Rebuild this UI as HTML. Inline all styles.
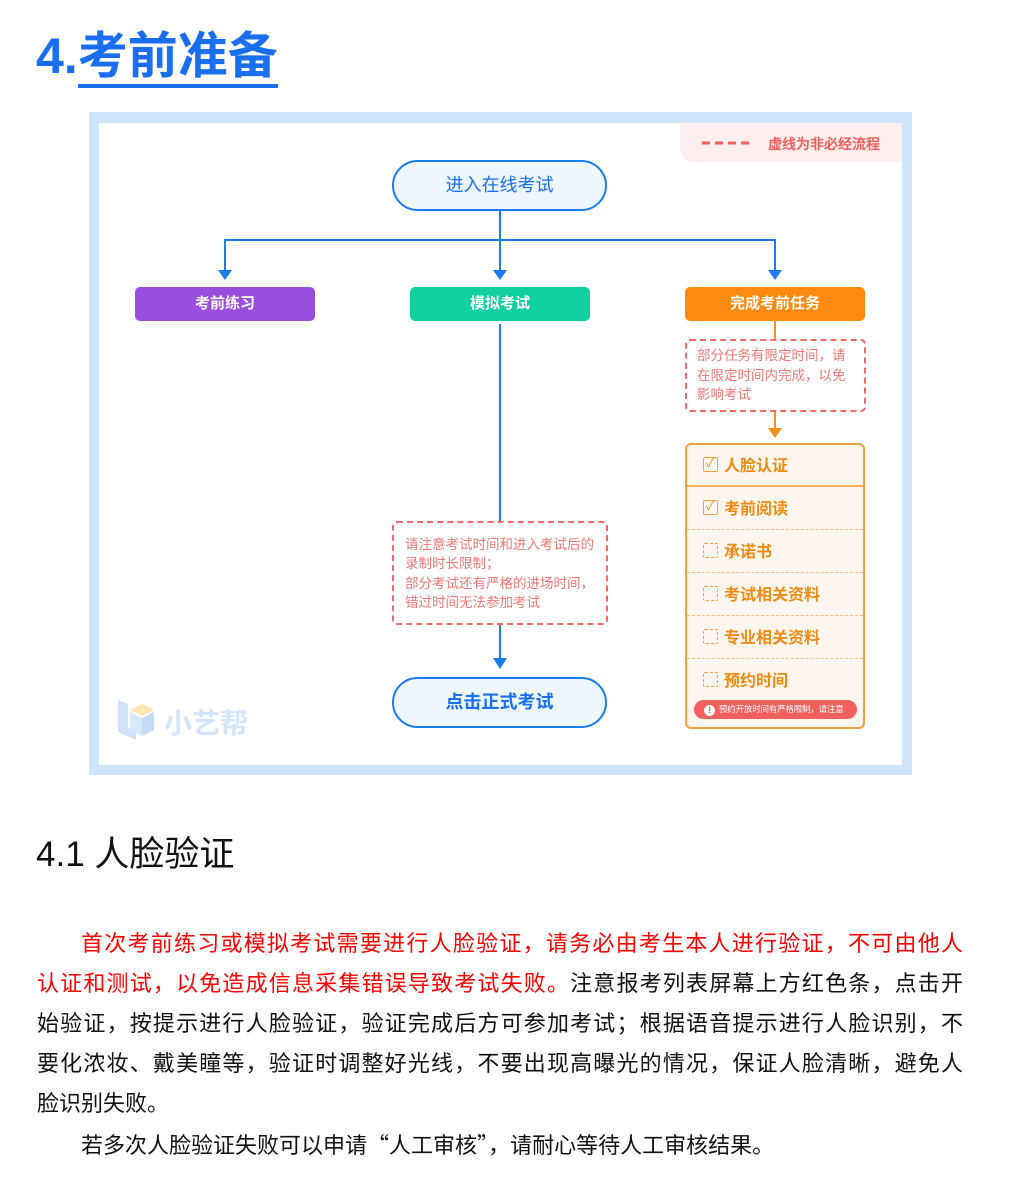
<!DOCTYPE html>
<html><head><meta charset="utf-8"><style>
*{margin:0;padding:0;box-sizing:border-box}
body{width:1024px;height:1203px;background:#fff;position:relative;overflow:hidden;font-family:"Liberation Sans","Noto Sans CJK SC",sans-serif}
.a{position:absolute}
.t{position:absolute;white-space:nowrap}
.line{position:absolute;left:37px;width:926px;font-size:22px;height:40px;line-height:40px;text-align:justify;text-align-last:justify;color:#111;white-space:nowrap}
.row{position:absolute;left:687px;width:176px;height:43px}
.cb{position:absolute;left:16px;top:14px;width:15px;height:15px;border:1.5px solid #f5a040;border-radius:2px}
.cbd{border-style:dashed}
.rt{position:absolute;left:37px;top:9px;font-size:16px;font-weight:bold;color:#f08a10}
.cj{font-family:"Noto Sans CJK SC",sans-serif}
</style></head><body>
<div class="t" style="left:36px;top:26px;font-size:50px;font-weight:bold;color:#1a6ef0;line-height:60px">4.<span style="border-bottom:4px solid #1a6ef0">考前准备</span></div>

<div class="a" style="left:89px;top:112px;width:823px;height:663px;background:#cfe5fb"></div>
<div class="a" style="left:99px;top:123px;width:803px;height:642px;background:#fff"></div>

<div class="a" style="left:680px;top:123px;width:222px;height:39px;background:#fdeeee;border-bottom-left-radius:14px"></div>
<svg class="a" style="left:700px;top:141px" width="56" height="4"><path d="M2 2H54" stroke="#f06060" stroke-width="3" stroke-dasharray="8 5"/></svg>
<div class="t" style="left:768px;top:134px;font-size:14px;color:#f06060;font-weight:500;-webkit-text-stroke:0.3px #f06060">虚线为非必经流程</div>

<svg class="a" style="left:0;top:0" width="1024" height="1203">
<g stroke="#1a7cf0" stroke-width="2" fill="none">
<path d="M500 211V272M225 272V240H775V272"/>
<path d="M500 324V521M500 625V660"/>
</g>
<g fill="#1a7cf0"><path d="M218 270h14l-7 10z"/><path d="M493 270h14l-7 10z"/><path d="M768 270h14l-7 10z"/><path d="M493 658h14l-7 11z"/></g>
<path d="M775 321V339M775 412V430" stroke="#f59020" stroke-width="2"/>
<path d="M768 428h14l-7 10z" fill="#f59020"/>
</svg>

<div class="a" style="left:392px;top:160px;width:215px;height:51px;border:2px solid #1a7cf0;border-radius:26px;background:#eef6ff;color:#1a6ef0;font-size:18px;text-align:center;line-height:47px">进入在线考试</div>

<div class="a" style="left:135px;top:287px;width:180px;height:34px;background:#9b4de0;border-radius:5px;color:#fff;font-size:15px;font-weight:bold;text-align:center;line-height:34px">考前练习</div>
<div class="a" style="left:410px;top:287px;width:180px;height:34px;background:#12cf9f;border-radius:5px;color:#fff;font-size:15px;font-weight:bold;text-align:center;line-height:34px">模拟考试</div>
<div class="a" style="left:685px;top:287px;width:180px;height:34px;background:#ff8a10;border-radius:5px;color:#fff;font-size:15px;font-weight:bold;text-align:center;line-height:34px">完成考前任务</div>

<div class="a" style="left:392px;top:521px;width:216px;height:104px;border:2px dashed #f06a6a;border-radius:5px;background:#fff"></div>
<div class="t" style="left:405px;top:535px;font-size:13.5px;line-height:19.3px;color:#f07878">请注意考试时间和进入考试后的<br>录制时长限制；<br>部分考试还有严格的进场时间，<br>错过时间无法参加考试</div>

<div class="a" style="left:392px;top:677px;width:215px;height:51px;border:2px solid #1a7cf0;border-radius:26px;background:#eef6ff;color:#1a6ef0;font-size:18px;font-weight:bold;text-align:center;line-height:47px">点击正式考试</div>

<div class="a" style="left:685px;top:339px;width:181px;height:73px;border:2px dashed #f06a6a;border-radius:5px"></div>
<div class="t" style="left:697px;top:346px;font-size:13.5px;line-height:19.5px;color:#f07878">部分任务有限定时间，请<br>在限定时间内完成，以免<br>影响考试</div>

<div class="a" style="left:685px;top:443px;width:180px;height:286px;border:2px solid #f5a040;border-radius:6px;background:#fff7ef"></div>
<div class="a" style="left:687px;top:485px;width:176px;border-top:2px solid #f5b060"></div>
<div class="a" style="left:687px;top:529px;width:176px;border-top:1.5px dashed #f5c080"></div>
<div class="a" style="left:687px;top:572px;width:176px;border-top:1.5px dashed #f5c080"></div>
<div class="a" style="left:687px;top:615px;width:176px;border-top:1.5px dashed #f5c080"></div>
<div class="a" style="left:687px;top:658px;width:176px;border-top:1.5px dashed #f5c080"></div>
<div class="row" style="top:443px"><div class="cb"><span style="position:absolute;left:2px;top:-4px;font-size:12px;color:#f08a10">✓</span></div><div class="rt">人脸认证</div></div>
<div class="row" style="top:486px"><div class="cb"><span style="position:absolute;left:2px;top:-4px;font-size:12px;color:#f08a10">✓</span></div><div class="rt">考前阅读</div></div>
<div class="row" style="top:529px"><div class="cb cbd"></div><div class="rt">承诺书</div></div>
<div class="row" style="top:572px"><div class="cb cbd"></div><div class="rt">考试相关资料</div></div>
<div class="row" style="top:615px"><div class="cb cbd"></div><div class="rt">专业相关资料</div></div>
<div class="row" style="top:658px"><div class="cb cbd"></div><div class="rt">预约时间</div></div>
<div class="a" style="left:694px;top:700px;width:163px;height:19px;background:#f25f5f;border-radius:10px;color:#fff;font-size:8.5px;line-height:19px;white-space:nowrap;overflow:hidden;letter-spacing:-0.2px"><span style="display:inline-block;width:11px;height:11px;border-radius:50%;background:#fff;color:#f25f5f;text-align:center;line-height:11px;font-size:9px;font-weight:bold;margin:0 4px 0 10px;vertical-align:-1px">!</span>预约开放时间有严格限制，请注意</div>

<svg class="a" style="left:116px;top:696px" width="40" height="46"><path d="M2 4L12 8V32L20 36V44L2 36Z" fill="#cfe2fa"/><path d="M14 14L26 8L38 14L26 20Z" fill="#fde6b0"/><path d="M14 16L26 22V40L14 34Z" fill="#d8e8fb"/><path d="M26 22L38 16V34L26 40Z" fill="#c5dcf8"/></svg>
<div class="t" style="left:164px;top:702px;font-size:28px;font-weight:bold;color:#d3e5fb">小艺帮</div>

<div class="t" style="left:36px;top:830px;font-size:35px;color:#111;line-height:50px">4.1 人脸验证</div>

<div class="line" style="top:924px;left:81px;width:882px;color:#f00">首次考前练习或模拟考试需要进行人脸验证，请务必由考生本人进行验证，不可由他人</div>
<div class="line" style="top:964px"><span style="color:#f00">认证和测试，以免造成信息采集错误导致考试失败。</span>注意报考列表屏幕上方红色条，点击开</div>
<div class="line" style="top:1004px">始验证，按提示进行人脸验证，验证完成后方可参加考试；根据语音提示进行人脸识别，不</div>
<div class="line" style="top:1044px">要化浓妆、戴美瞳等，验证时调整好光线，不要出现高曝光的情况，保证人脸清晰，避免人</div>
<div class="line" style="top:1084px;text-align-last:left">脸识别失败。</div>
<div class="line" style="top:1124px;left:81px;text-align-last:left">若多次人脸验证失败可以申请<span class="cj">“</span>人工审核<span class="cj">”</span>，请耐心等待人工审核结果。</div>
</body></html>
